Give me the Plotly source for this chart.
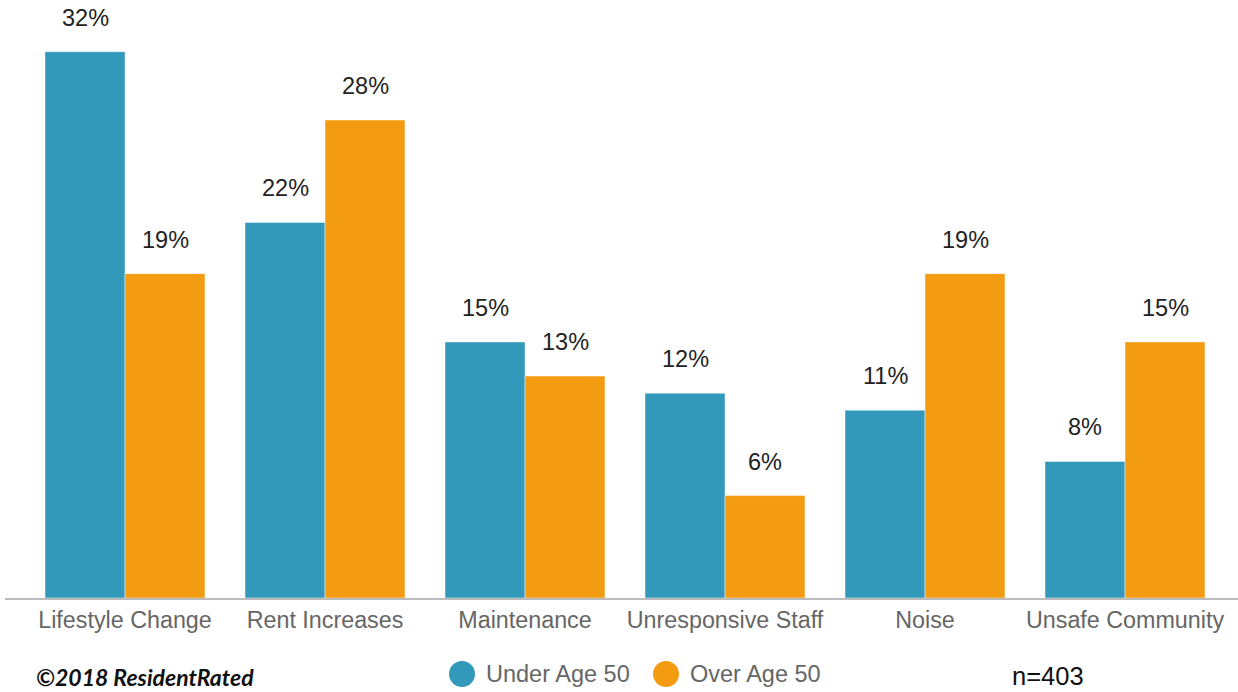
import plotly.graph_objects as go

categories = ["Lifestyle Change", "Rent Increases", "Maintenance",
              "Unresponsive Staff", "Noise", "Unsafe Community"]
under_50 = [32, 22, 15, 12, 11, 8]
over_50 = [19, 28, 13, 6, 19, 15]
series_names = ["Under Age 50", "Over Age 50"]
series_colors = ["#3399bb", "#f39c11"]

FONT = "Liberation Sans, Arial, sans-serif"

fig = go.Figure()
for name, vals, color in zip(series_names, [under_50, over_50], series_colors):
    fig.add_trace(go.Bar(
        x=categories, y=vals, name=name,
        marker=dict(color=color, line=dict(color="rgba(255,255,255,0.45)", width=1)),
        showlegend=False, hoverinfo="skip",
    ))

# value labels above each bar
annotations = []
for vals, shift in [(under_50, -40), (over_50, 40)]:
    for cat, v in zip(categories, vals):
        annotations.append(dict(
            x=cat, y=v, xref="x", yref="y", text=f"{v}%",
            showarrow=False, xshift=shift, yshift=19, yanchor="bottom",
            font=dict(family=FONT, size=23.5, color="#222222"),
        ))

# custom legend with large round swatches
legend_items = [(series_names[0], series_colors[0], 462), (series_names[1], series_colors[1], 666)]
shapes = []
for name, color, px in legend_items:
    shapes.append(dict(
        type="circle", xref="paper", yref="paper",
        xsizemode="pixel", ysizemode="pixel",
        xanchor=(px - 5) / 1233, yanchor=-(674 - 598) / 598,
        x0=-13, x1=13, y0=-13, y1=13,
        fillcolor=color, line=dict(width=0),
    ))
    annotations.append(dict(
        x=(px - 5 + 22) / 1233, y=-(674 - 598) / 598, xref="paper", yref="paper",
        text=name, showarrow=False, xanchor="left", yanchor="middle",
        font=dict(family=FONT, size=23.5, color="#666666"),
    ))

annotations.append(dict(
    x=(1010 - 5) / 1233, y=-(676 - 598) / 598, xref="paper", yref="paper",
    text="n=403", showarrow=False, xanchor="left", yanchor="middle",
    font=dict(family=FONT, size=25.5, color="#111111"),
))
annotations.append(dict(
    x=(34 - 5) / 1233, y=-(677 - 598) / 598, xref="paper", yref="paper",
    text="<b><i>©2018 ResidentRated</i></b>", showarrow=False,
    xanchor="left", yanchor="middle",
    font=dict(family="Lato, sans-serif", size=23, color="#111111"),
))

fig.update_layout(
    width=1238, height=692,
    margin=dict(l=5, r=0, t=0, b=94),
    paper_bgcolor="white", plot_bgcolor="white",
    barmode="group", bargap=0.2, bargroupgap=0,
    annotations=annotations, shapes=shapes,
    xaxis=dict(
        range=[-0.6, 5.565], showline=True, linecolor="#bbbbbb", linewidth=2,
        ticks="", showgrid=False, zeroline=False,
        tickfont=dict(family=FONT, size=23.3, color="#666666"),
    ),
    yaxis=dict(range=[0, 35.03], visible=False, showgrid=False, zeroline=False),
)

fig.write_html("out.html")
